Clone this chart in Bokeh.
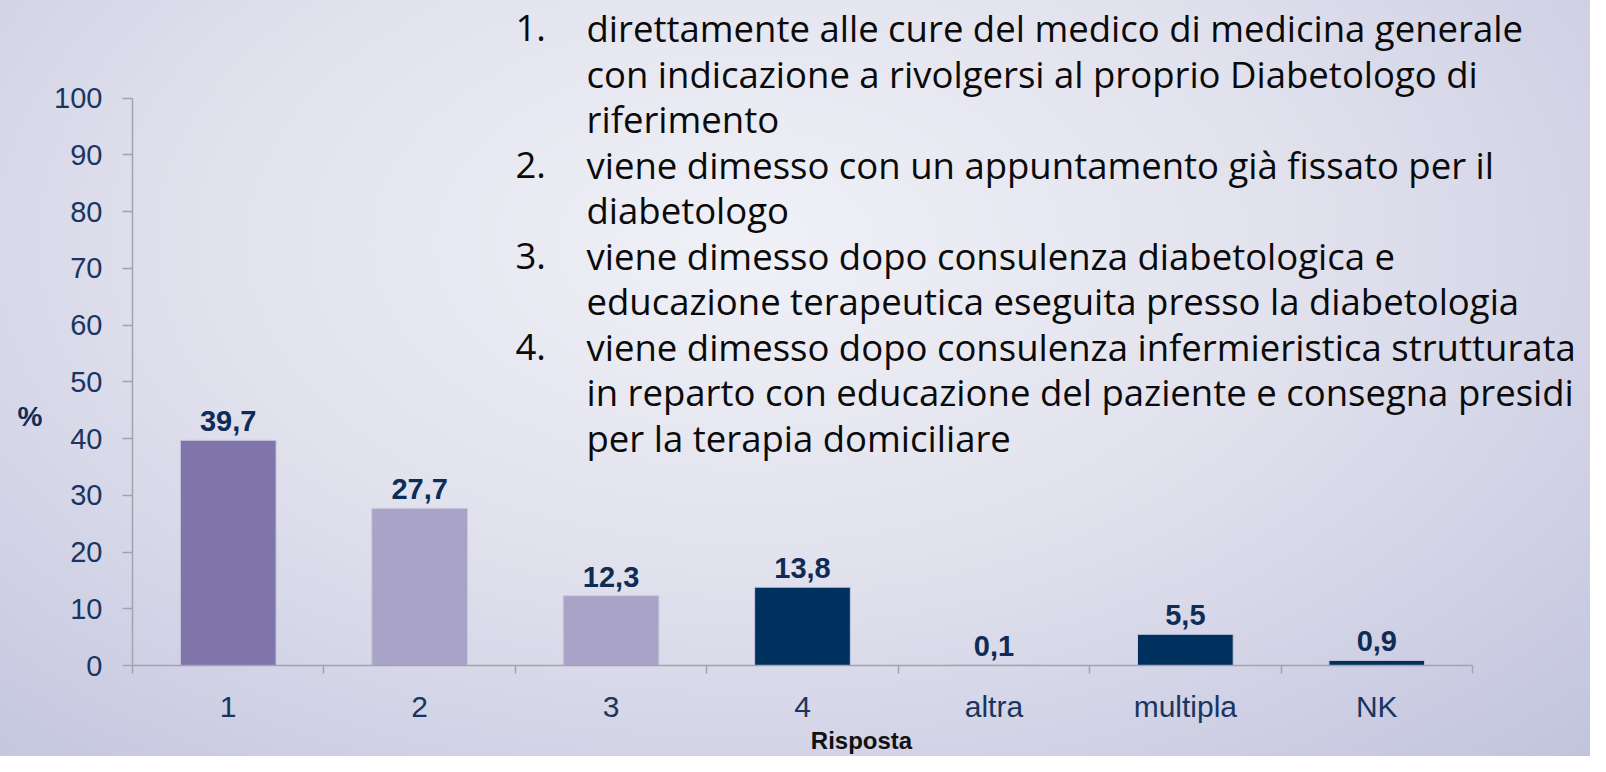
from bokeh.plotting import figure
from bokeh.models import Range1d, FixedTicker, Label, ColumnDataSource, LinearAxis
from bokeh.core.properties import value
from bokeh.embed import file_html
from bokeh.resources import INLINE

# ---------------- data ----------------
categories = ["1", "2", "3", "4", "altra", "multipla", "NK"]
percentages = [39.7, 27.7, 12.3, 13.8, 0.1, 5.5, 0.9]
y_ticks = [0, 10, 20, 30, 40, 50, 60, 70, 80, 90, 100]
x_axis_title = "Risposta"
y_axis_title = "%"

legend_items = [
    ("1.", ["direttamente alle cure del medico di medicina generale",
            "con indicazione a rivolgersi al proprio Diabetologo di",
            "riferimento"]),
    ("2.", ["viene dimesso con un appuntamento già fissato per il",
            "diabetologo"]),
    ("3.", ["viene dimesso dopo consulenza diabetologica e",
            "educazione terapeutica eseguita presso la diabetologia"]),
    ("4.", ["viene dimesso dopo consulenza infermieristica strutturata",
            "in reparto con educazione del paziente e consegna presidi",
            "per la terapia domiciliare"]),
]

# ---------------- styles / layout ----------------
bar_colors = ["#7f75aa", "#a8a3c7", "#a8a3c7", "#00305e", "#9a9aae", "#00305e", "#00305e"]
NAVY = "#1a355f"
AXIS_GRAY = "#a3a3ad"

W, H = 1590, 756
SHIFT = 5                       # chart moved up a little so the axis title fits
F_LEFT, F_RIGHT = 132, 1472     # axis extent in the reference picture (px)
F_TOP, F_BOT = 103 - SHIFT, 672 - SHIFT
PX_X = (F_RIGHT - F_LEFT) / len(categories)
PX_Y = (F_BOT - F_TOP) / 100.0

x_end = len(categories) + (W - F_RIGHT) / PX_X
y_end = 100 + F_TOP / PX_Y

p = figure(width=W, height=H, output_backend="svg", toolbar_location=None,
           x_range=Range1d(0, x_end), y_range=Range1d(0, y_end),
           min_border_left=F_LEFT, min_border_right=0, min_border_top=0,
           min_border_bottom=H - F_BOT)

p.background_fill_alpha = 0
p.border_fill_alpha = 0
p.outline_line_color = None
p.grid.visible = False
p.styles = {"background": "radial-gradient(ellipse 75% 95% at 47% 32%, #f0f0f7 0%, #e2e2ee 45%, #c2c4de 100%)"}

positions = [i + 0.5 for i in range(len(categories))]
labels = [f"{v:.1f}".replace(".", ",") for v in percentages]
src = ColumnDataSource(dict(x=positions, top=percentages, label=labels, color=bar_colors))

p.vbar(x="x", top="top", width=0.5, source=src, fill_color="color",
       line_color="#c9c8de", line_width=1)
p.text(x="x", y="top", text="label", source=src, text_align="center",
       text_baseline="alphabetic", y_offset=-19,
       text_font=value("Liberation Sans"), text_font_style="bold",
       text_font_size="29px", text_color="#0f2c56")

# y axis
ya = p.yaxis[0]
ya.bounds = (0, 100)
ya.ticker = FixedTicker(ticks=y_ticks, minor_ticks=[])
ya.axis_line_color = AXIS_GRAY
ya.axis_line_width = 1.5
ya.major_tick_line_color = AXIS_GRAY
ya.major_tick_line_width = 1.5
ya.major_tick_out = 10
ya.major_tick_in = 0
ya.minor_tick_line_color = None
ya.major_label_standoff = 20
ya.major_label_text_font = "Liberation Sans"
ya.major_label_text_font_size = "29px"
ya.major_label_text_color = NAVY

# "%" title placed beside the axis at its reference height
pct_pos = (672 - 422) / (569 / 100.0)
pct_axis = LinearAxis(ticker=FixedTicker(ticks=[pct_pos], minor_ticks=[]),
                      major_label_overrides={pct_pos: y_axis_title},
                      axis_line_color=None, major_tick_line_color=None,
                      minor_tick_line_color=None, major_tick_out=0, major_tick_in=0,
                      major_label_standoff=9,
                      major_label_text_font="Liberation Sans",
                      major_label_text_font_style="bold",
                      major_label_text_font_size="28px",
                      major_label_text_color="#0f2c56")
p.add_layout(pct_axis, "left")

# x axis: labels at category centres, ticks at category boundaries
xa = p.xaxis[0]
xa.bounds = (0, len(categories))
xa.ticker = FixedTicker(ticks=positions, minor_ticks=list(range(len(categories) + 1)))
xa.major_label_overrides = {pos: cat for pos, cat in zip(positions, categories)}
xa.axis_line_color = AXIS_GRAY
xa.axis_line_width = 1.5
xa.major_tick_line_color = None
xa.major_tick_out = 0
xa.major_tick_in = 0
xa.minor_tick_line_color = AXIS_GRAY
xa.minor_tick_line_width = 1.5
xa.minor_tick_out = 8
xa.minor_tick_in = 0
xa.major_label_standoff = 16
xa.major_label_text_font = "Liberation Sans"
xa.major_label_text_font_size = "30px"
xa.major_label_text_color = NAVY
xa.axis_label = x_axis_title
xa.axis_label_text_font = "Liberation Sans"
xa.axis_label_text_font_style = "bold"
xa.axis_label_text_font_size = "24px"
xa.axis_label_text_color = "#111111"
xa.axis_label_standoff = 1

# helpers converting reference-picture pixels into data coordinates
def dx(px):
    return (px - F_LEFT) / PX_X
def dy(py):
    return (F_BOT - py) / PX_Y

line_i = 0
for num, lines in legend_items:
    for j, ln in enumerate(lines):
        yc = 28 + 45.6 * line_i
        if j == 0:
            p.add_layout(Label(x=dx(515), y=dy(yc), text=num, text_baseline="middle",
                               text_font="Open Sans", text_font_size="36.5px",
                               text_color="#0a0a0a"))
        p.add_layout(Label(x=dx(586), y=dy(yc), text=ln, text_baseline="middle",
                           text_font="Open Sans", text_font_size="36.5px",
                           text_color="#0a0a0a"))
        line_i += 1

open("out.html", "w").write(file_html(p, INLINE))
